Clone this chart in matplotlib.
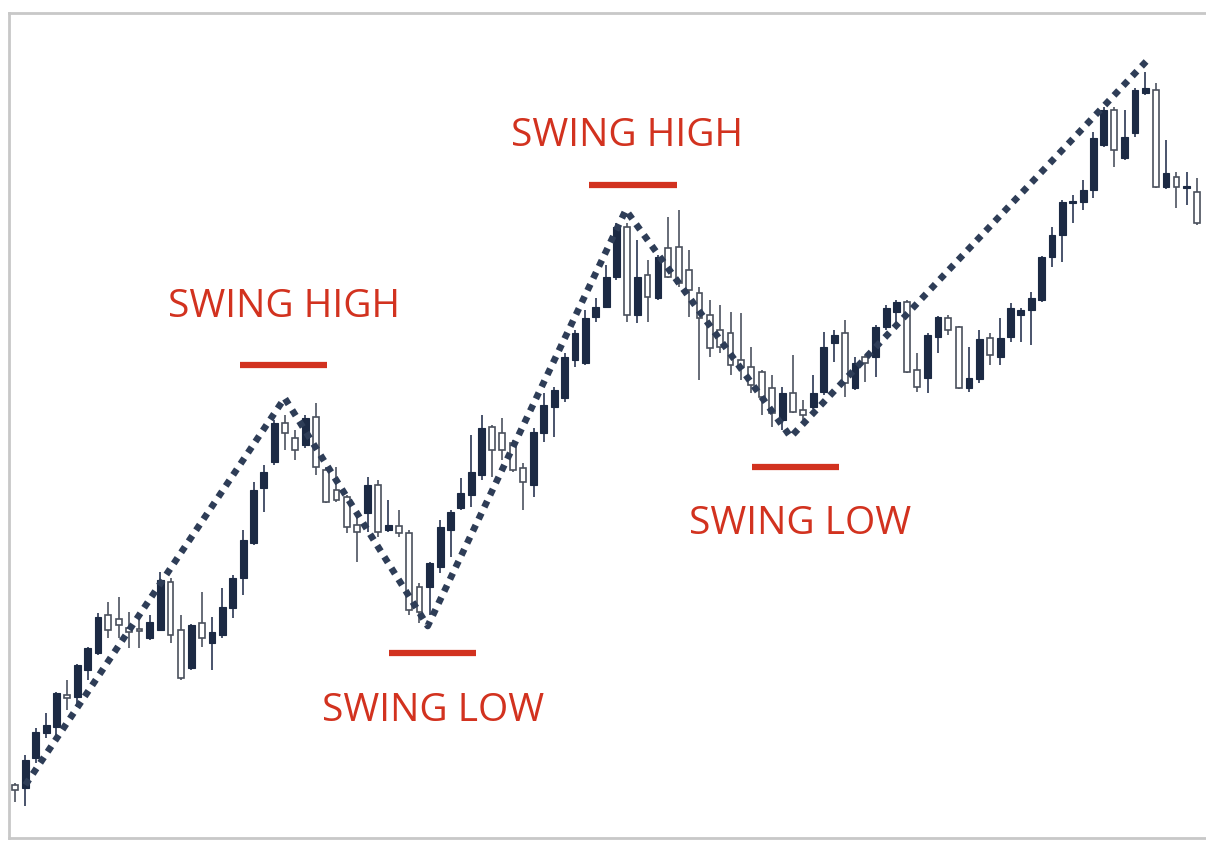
import matplotlib
matplotlib.use("Agg")
import matplotlib.pyplot as plt
from matplotlib.patches import Rectangle

# ---- candle data (price units) ----
opens = [57, 54, 84, 109, 115, 147, 145, 172, 189, 227, 223, 214, 213, 204, 212, 260, 212, 174, 219, 199,
         207, 234, 264, 299, 354, 380, 419, 404, 397, 425, 372, 352, 345, 317, 329, 357, 312, 316, 309, 255,
         255, 275, 312, 334, 347, 367, 415, 409, 399, 374, 357, 409, 435, 444, 482, 479, 525, 535, 565, 615,
         527, 567, 544, 594, 595, 572, 549, 527, 512, 509, 482, 475, 470, 454, 422, 449, 432, 435, 450, 499,
         509, 454, 485, 485, 515, 530, 540, 472, 464, 505, 524, 515, 454, 463, 504, 485, 505, 527, 532, 542,
         585, 607, 639, 640, 652, 697, 732, 684, 709, 749, 752, 655, 665, 654, 650]
highs = [59, 87, 114, 129, 150, 162, 178, 195, 229, 240, 245, 230, 225, 227, 270, 264, 227, 218, 250, 225,
         254, 267, 312, 360, 377, 422, 427, 412, 427, 439, 375, 375, 347, 325, 365, 362, 342, 332, 312, 259,
         280, 322, 332, 364, 407, 427, 417, 424, 402, 379, 414, 449, 455, 489, 512, 532, 544, 577, 619, 619,
         602, 582, 587, 625, 632, 592, 555, 542, 537, 530, 529, 495, 472, 467, 455, 487, 442, 467, 510, 512,
         522, 485, 487, 517, 537, 542, 542, 489, 509, 526, 527, 516, 495, 512, 509, 524, 539, 534, 550, 586,
         615, 642, 647, 662, 710, 735, 735, 732, 754, 770, 759, 702, 670, 670, 664]
lows = [40, 36, 79, 104, 107, 132, 135, 162, 187, 204, 204, 194, 194, 202, 211, 199, 162, 172, 195, 172,
        204, 224, 247, 297, 330, 377, 392, 382, 394, 367, 339, 340, 309, 280, 310, 305, 310, 305, 227, 219,
        227, 269, 285, 332, 335, 362, 365, 382, 370, 332, 345, 400, 405, 440, 475, 477, 520, 534, 562, 520,
        519, 520, 542, 564, 555, 525, 462, 485, 489, 467, 462, 449, 427, 415, 412, 429, 422, 433, 447, 480,
        445, 452, 460, 465, 512, 515, 469, 450, 449, 489, 507, 453, 450, 459, 477, 477, 500, 500, 497, 540,
        575, 580, 619, 632, 644, 695, 675, 682, 705, 747, 654, 653, 634, 637, 617]
closes = [52, 82, 110, 117, 149, 144, 177, 194, 225, 212, 217, 210, 211, 220, 262, 207, 164, 217, 204, 210,
          235, 264, 302, 352, 370, 419, 409, 392, 424, 375, 340, 342, 315, 310, 357, 310, 317, 309, 232, 230,
          279, 315, 330, 349, 370, 414, 392, 392, 372, 360, 410, 437, 452, 485, 509, 524, 535, 565, 615, 527,
          565, 545, 585, 565, 559, 552, 524, 494, 495, 477, 475, 457, 445, 429, 449, 430, 427, 449, 495, 507,
          459, 479, 479, 515, 534, 540, 470, 455, 507, 525, 512, 454, 464, 503, 487, 504, 534, 532, 544, 585,
          607, 640, 641, 652, 704, 732, 692, 705, 752, 754, 655, 669, 655, 656, 619]

# ---- swing zigzag (candle index, price) ----
zig_idx = [1.0, 26.0, 39.8, 58.9, 74.8, 109.3]
zig_price = [57, 444, 216, 632, 405, 783]

# ---- swing labels ----
labels = ["SWING HIGH", "SWING LOW", "SWING HIGH", "SWING LOW"]
label_idx = [25.9, 40.3, 59.0, 75.7]
label_price = [535, 131, 706, 318]
bar_idx = [25.9, 40.3, 59.6, 75.3]
bar_price = [477, 189, 657, 375]
bar_halfwidth = 4.2

X0, DX = 15.0, 10.37  # pixel position of first candle and spacing
W, H = 1206, 842

fig = plt.figure(figsize=(W / 100, H / 100), dpi=100)
ax = fig.add_axes([0, 0, 1, 1])
ax.set_xlim(-X0 / DX, (W - X0) / DX)
ax.set_ylim(0, H)
ax.axis("off")

dark = "#1c2a44"
wick_col = "#5b606c"
hollow_edge = "#4a505c"
body_w = 0.66

for i, (o, h, l, c) in enumerate(zip(opens, highs, lows, closes)):
    bull = c >= o
    ax.plot([i, i], [l, h], color=wick_col if not bull else "#3a4560", lw=1.3,
            solid_capstyle="butt", zorder=2)
    bot, top = min(o, c), max(o, c)
    hgt = max(top - bot, 2)
    if bull:
        ax.add_patch(Rectangle((i - body_w / 2, bot), body_w, hgt, facecolor=dark,
                               edgecolor=dark, lw=0.8, zorder=3))
    else:
        ax.add_patch(Rectangle((i - body_w / 2 + 0.05, bot), body_w - 0.1, hgt, facecolor="white",
                               edgecolor=hollow_edge, lw=1.2, zorder=3))

# zigzag dotted line
ax.plot(zig_idx, zig_price, color="#2e3d57", lw=4.8, dashes=(1.0, 1.0),
        dash_capstyle="butt", solid_joinstyle="miter", zorder=5)

red = "#d2321f"
for bi, bp in zip(bar_idx, bar_price):
    ax.plot([bi - bar_halfwidth, bi + bar_halfwidth], [bp, bp], color=red, lw=4.5,
            solid_capstyle="butt", zorder=6)
for txt, li, lp in zip(labels, label_idx, label_price):
    ax.text(li, lp, txt, color=red, fontsize=28, family=["Open Sans", "DejaVu Sans"],
            ha="center", va="center", zorder=7)

# frame (light gray, open on the right)
fc = "#c8c8c8"
ax.plot([9 / W, 9 / W], [1 - 13 / H, 1 - 838 / H], transform=ax.transAxes, color=fc, lw=2, zorder=1)
ax.plot([9 / W, 1], [1 - 13 / H, 1 - 13 / H], transform=ax.transAxes, color=fc, lw=2, zorder=1)
ax.plot([9 / W, 1], [1 - 838 / H, 1 - 838 / H], transform=ax.transAxes, color=fc, lw=2, zorder=1)

fig.savefig("out.png", dpi=100, facecolor="white")
